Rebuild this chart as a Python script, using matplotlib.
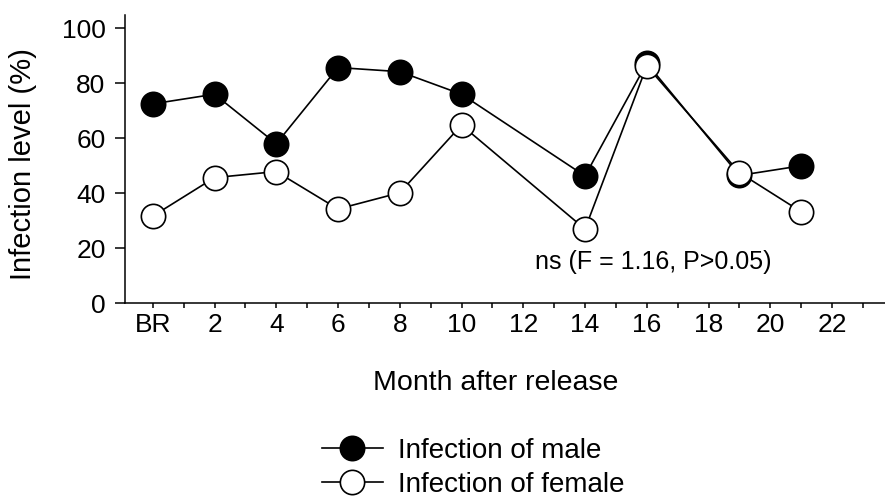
"""Infection level of male / female after release."""

import matplotlib
matplotlib.use("Agg")
import matplotlib.pyplot as plt
from matplotlib.ticker import FixedLocator

plt.rcParams["font.family"] = ["Liberation Sans", "DejaVu Sans"]

# data (month 0 = BR)
months = [0, 2, 4, 6, 8, 10, 14, 16, 19, 21]
male = [72.5, 76, 58, 85.7, 84.2, 76, 46.3, 87.3, 46.5, 50]
female = [31.7, 45.7, 47.9, 34.3, 40.2, 64.8, 27, 86.3, 47.5, 33.3]

tick_pos = [0, 2, 4, 6, 8, 10, 12, 14, 16, 18, 20, 22]
tick_labels = ["BR", "2", "4", "6", "8", "10", "12", "14", "16", "18", "20", "22"]
y_ticks = [0, 20, 40, 60, 80, 100]

fig = plt.figure(figsize=(8.85, 4.99), dpi=100)
ax = fig.add_axes([0.1412, 0.392, 0.86, 0.578])

ax.plot(months, male, color="black", lw=1.2, marker="o", ms=17.5,
        mfc="black", mec="black", mew=1.2, label="Infection of male", zorder=3)
ax.plot(months, female, color="black", lw=1.2, marker="o", ms=17.5,
        mfc="white", mec="black", mew=1.2, label="Infection of female", zorder=4)

ax.set_xlim(-0.9, 23.75)
ax.set_ylim(0, 104.8)
ax.set_xticks(tick_pos)
ax.set_xticklabels(tick_labels)
ax.xaxis.set_minor_locator(FixedLocator(range(1, 24, 2)))
ax.set_yticks(y_ticks)

for s in ["top", "right"]:
    ax.spines[s].set_visible(False)
for s in ["left", "bottom"]:
    ax.spines[s].set_linewidth(1.1)

ax.tick_params(axis="y", direction="out", length=7, width=1.1, labelsize=19, pad=7)
ax.tick_params(axis="x", which="both", direction="out", length=3.5, width=1.1,
               labelsize=19, pad=3.5)

fig.text(23 / 885, 1 - 164.5 / 499, "Infection level (%)", fontsize=21,
         rotation=90, ha="center", va="center")
fig.text(0.56, 1 - 383 / 499, "Month after release", fontsize=20.5,
         ha="center", va="center")

ax.text(16.2, 15, "ns (F = 1.16, P>0.05)", fontsize=18, ha="center", va="center")

fig.legend(loc="upper left", bbox_to_anchor=(0.3635, 0.123), frameon=False,
           fontsize=20, borderpad=0, borderaxespad=0, handlelength=2.2,
           handletextpad=0.55, labelspacing=0.3, markerscale=1.0)

fig.savefig("out.png", dpi=100)
